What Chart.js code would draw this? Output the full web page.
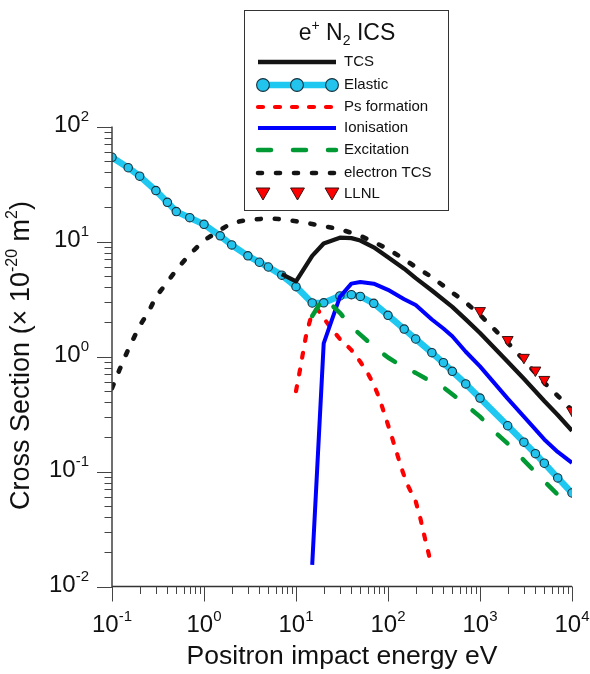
<!DOCTYPE html>
<html><head><meta charset="utf-8">
<script src="https://cdn.jsdelivr.net/npm/chart.js@4.4.1/dist/chart.umd.min.js"></script>
<style>html,body{margin:0;padding:0;background:#fff}canvas{display:block}</style>
</head><body>
<canvas id="c" width="590" height="674"></canvas>
<script>
// ---- data (energy in eV, cross sections in 1e-20 m^2) ----
const energyElastic = [0.1,0.15,0.2,0.3,0.4,0.5,0.7,1,1.5,2,3,4,5,7,10,15,20,30,40,50,70,100,150,200,300,400,500,700,1000,2000,3000,4000,5000,7000,10000];
const elastic = [54,43.8,37,27.7,21.9,18.2,16.1,14.1,11.2,9.33,7.5,6.6,6.0,5.1,4.05,2.92,2.93,3.36,3.45,3.33,2.9,2.28,1.73,1.42,1.08,0.883,0.743,0.577,0.435,0.25,0.18,0.143,0.118,0.088,0.065];

const energyTCS = [7,10,15,20,30,40,50,70,100,150,200,300,500,700,1000,2000,3000,5000,7000,10000];
const tcs = [5.2,4.5,7.5,9.6,10.8,10.7,10.2,8.9,7.3,5.8,4.8,3.75,2.7,2.1,1.6,0.9,0.64,0.41,0.31,0.226];

const energyPs = [10,11,13,15,17,20,25,30,40,50,60,70,80,90,100,120,140,160,200,225,250,280];
const psFormation = [0.5,0.75,1.6,2.4,2.6,2.15,1.7,1.42,1.14,0.9,0.72,0.57,0.44,0.33,0.255,0.16,0.107,0.079,0.055,0.039,0.027,0.0185];

const energyIon = [15,20,30,40,50,70,100,150,200,300,400,500,700,1000,2000,3000,5000,7000,10000];
const ionisation = [0.0154,1.3,3.3,4.3,4.45,4.3,3.8,3.15,2.8,2.1,1.75,1.5,1.1,0.82,0.43,0.3,0.19,0.148,0.119];

const energyExc = [15,20,25,30,40,50,70,100,150,200,300,400,500,700,1000,1500,2000,3000,5000,7000,10000];
const excitation = [2.25,3.25,2.75,2.4,1.82,1.55,1.22,0.98,0.8,0.72,0.6,0.54,0.47,0.38,0.3,0.215,0.175,0.125,0.082,0.063,0.05];

const energyETCS = [0.1,0.12,0.15,0.2,0.25,0.3,0.4,0.5,0.7,1,1.5,2,3,5,7,10,15,20,30,40,50,70,100,150,200,300,500,700,1000,1500,2000,3000,5000,7000,10000];
const electronTCS = [0.53,0.76,1.15,1.85,2.45,3.3,4.45,5.65,7.75,10.2,12.6,14.5,15.4,15.9,15.6,15.0,14.2,13.6,12.8,11.9,11.2,9.9,8.6,7.0,6.0,4.9,3.6,2.95,2.3,1.66,1.32,0.93,0.59,0.455,0.34];

const energyLLNL = [1000,2000,3000,4000,5000,10000];
const llnl = [2.5,1.4,0.98,0.76,0.63,0.34];

const xTickExp = [-1,0,1,2,3,4];
const yTickExp = [-2,-1,0,1,2];
const xTitle = 'Positron impact energy eV';
const legendOrder = ['TCS','Elastic','Ps formation','Ionisation','Excitation','electron TCS','LLNL'];

// ---- helpers ----
const FF = '"Liberation Sans", Arial, sans-serif';
const pts = (xs, ys) => xs.map((x, i) => ({x: x, y: ys[i]}));

function richWidth(ctx, parts){
  let w = 0;
  parts.forEach(p => { ctx.font = p.size + 'px ' + FF; w += ctx.measureText(p.t).width; });
  return w;
}
function drawRich(ctx, parts, x, y, align){
  const w = richWidth(ctx, parts);
  let cx = align === 'center' ? x - w/2 : (align === 'right' ? x - w : x);
  ctx.textAlign = 'left'; ctx.textBaseline = 'alphabetic';
  parts.forEach(p => {
    ctx.font = p.size + 'px ' + FF;
    ctx.fillText(p.t, cx, y + (p.dy || 0));
    cx += ctx.measureText(p.t).width;
  });
}
const pow10Parts = e => [{t:'10', size:24}, {t:String(e), size:15, dy:-11}];

const COLORS = {
  tcs:'#141414', elastic:'#1ec8f0', ps:'#ff0000', ion:'#0000ff', exc:'#009933', etcs:'#141414', llnl:'#ff0000'
};

const datasets = [
  {label:'LLNL', data:pts(energyLLNL, llnl), showLine:false, pointStyle:'triangle', rotation:180,
   pointRadius:6.3, pointBackgroundColor:COLORS.llnl, pointBorderColor:'#3a1010', pointBorderWidth:1, order:0},
  {label:'Excitation', data:pts(energyExc, excitation), showLine:true, borderColor:COLORS.exc, borderWidth:4.5,
   borderDash:[13,22], borderCapStyle:'round', pointRadius:0, order:1},
  {label:'Ionisation', data:pts(energyIon, ionisation), showLine:true, borderColor:COLORS.ion, borderWidth:4,
   pointRadius:0, order:2},
  {label:'Ps formation', data:pts(energyPs, psFormation), showLine:true, borderColor:COLORS.ps, borderWidth:4.2,
   borderDash:[5,12], borderCapStyle:'round', pointRadius:0, order:3},
  {label:'TCS', data:pts(energyTCS, tcs), showLine:true, borderColor:COLORS.tcs, borderWidth:4.3,
   pointRadius:0, order:4},
  {label:'Elastic', data:pts(energyElastic, elastic), showLine:true, borderColor:COLORS.elastic, borderWidth:6.5,
   pointRadius:4.2, pointBackgroundColor:'#22c4ee', pointBorderColor:'#18303c', pointBorderWidth:1.1, order:5},
  {label:'electron TCS', data:pts(energyETCS, electronTCS), showLine:true, borderColor:COLORS.etcs, borderWidth:4.6,
   borderDash:[4,14], borderCapStyle:'round', pointRadius:0, order:6}
];
datasets.forEach(d => { d.borderJoinStyle = 'round'; d.tension = 0; d.pointHoverRadius = d.pointRadius; });

const axesPlugin = {
  id:'customAxes',
  afterDraw(chart){
    const ctx = chart.ctx, xs = chart.scales.x, ys = chart.scales.y, a = chart.chartArea;
    ctx.save();
    // axis lines
    ctx.strokeStyle = '#333'; ctx.lineWidth = 1.4;
    ctx.beginPath(); ctx.moveTo(a.left, a.top); ctx.lineTo(a.left, a.bottom); ctx.lineTo(a.right, a.bottom); ctx.stroke();
    // ticks
    ctx.lineWidth = 1; ctx.strokeStyle = '#444';
    for (let e = -1; e <= 4; e++){
      for (let m = 1; m <= 9; m++){
        const v = m * Math.pow(10, e);
        if (v > 10000.0001) break;
        const px = Math.round(xs.getPixelForValue(v)) + 0.5;
        const len = m === 1 ? 15 : 7.5;
        ctx.beginPath(); ctx.moveTo(px, a.bottom); ctx.lineTo(px, a.bottom + len); ctx.stroke();
      }
    }
    for (let e = -2; e <= 2; e++){
      for (let m = 1; m <= 9; m++){
        const v = m * Math.pow(10, e);
        if (v > 100.0001) break;
        const py = Math.round(ys.getPixelForValue(v)) + 0.5;
        const len = m === 1 ? 15 : 7.5;
        ctx.beginPath(); ctx.moveTo(a.left, py); ctx.lineTo(a.left - len, py); ctx.stroke();
      }
    }
    // tick labels
    ctx.fillStyle = '#111';
    xTickExp.forEach(e => drawRich(ctx, pow10Parts(e), xs.getPixelForValue(Math.pow(10, e)), 632, 'center'));
    yTickExp.forEach(e => drawRich(ctx, pow10Parts(e), 89, ys.getPixelForValue(Math.pow(10, e)) + 5, 'right'));
    // axis titles
    drawRich(ctx, [{t:xTitle, size:26.5}], (a.left + a.right)/2, 664, 'center');
    ctx.save();
    ctx.translate(29, (a.top + a.bottom)/2 - 1);
    ctx.rotate(-Math.PI/2);
    drawRich(ctx, [{t:'Cross Section (\u00D7 10', size:27}, {t:'-20', size:16, dy:-12}, {t:' m', size:27}, {t:'2', size:16, dy:-12}, {t:')', size:27}], 0, 0, 'center');
    ctx.restore();

    // legend box
    const bx = 244.5, by = 10.5, bw = 204, bh = 200;
    ctx.fillStyle = '#fff'; ctx.fillRect(bx, by, bw, bh);
    ctx.strokeStyle = '#333'; ctx.lineWidth = 1; ctx.strokeRect(bx, by, bw, bh);
    ctx.fillStyle = '#111';
    drawRich(ctx, [{t:'e', size:23}, {t:'+', size:14, dy:-10}, {t:' N', size:23}, {t:'2', size:14, dy:5}, {t:' ICS', size:23}], 347, 40, 'center');
    const rowY = [62, 85, 107, 128, 150, 173, 194];
    const x1 = 258, x2 = 336, tx = 344;
    legendOrder.forEach((lab, i) => {
      const ds = datasets.find(d => d.label === lab);
      const y = rowY[i];
      ctx.save();
      if (ds.showLine){
        ctx.strokeStyle = ds.borderColor; ctx.lineWidth = ds.borderWidth;
        ctx.lineCap = ds.borderCapStyle === 'round' ? 'round' : 'butt';
        ctx.setLineDash(ds.borderDash || []);
        ctx.beginPath(); ctx.moveTo(x1, y); ctx.lineTo(x2, y); ctx.stroke();
        ctx.setLineDash([]);
      }
      if (lab === 'Elastic'){
        [263, 297, 332].forEach(cx => {
          ctx.beginPath(); ctx.arc(cx, y, 6.4, 0, Math.PI*2);
          ctx.fillStyle = ds.pointBackgroundColor; ctx.fill();
          ctx.lineWidth = 1.1; ctx.strokeStyle = ds.pointBorderColor; ctx.stroke();
        });
      }
      if (lab === 'LLNL'){
        [263, 297.5, 332].forEach(cx => {
          const r = 8, cy = y - 2;
          ctx.beginPath();
          ctx.moveTo(cx, cy + r);
          ctx.lineTo(cx - r*0.866, cy - r/2);
          ctx.lineTo(cx + r*0.866, cy - r/2);
          ctx.closePath();
          ctx.fillStyle = ds.pointBackgroundColor; ctx.fill();
          ctx.lineWidth = 1; ctx.strokeStyle = ds.pointBorderColor; ctx.stroke();
        });
      }
      ctx.restore();
      ctx.fillStyle = '#111';
      ctx.font = '15px ' + FF; ctx.textAlign = 'left'; ctx.textBaseline = 'middle';
      ctx.fillText(lab, tx, y);
    });
    ctx.restore();
  }
};

new Chart(document.getElementById('c'), {
  type:'scatter',
  data:{datasets: datasets},
  options:{
    responsive:false, animation:false, devicePixelRatio:1,
    layout:{padding:{top:126.5, right:18, left:0, bottom:0}},
    plugins:{legend:{display:false}, tooltip:{enabled:false}},
    events:[],
    scales:{
      x:{type:'logarithmic', min:0.1, max:10000, position:'bottom',
         grid:{display:false}, border:{display:false}, ticks:{display:false},
         afterFit(s){ s.height = 87.5; }},
      y:{type:'logarithmic', min:0.01, max:100, position:'left',
         grid:{display:false}, border:{display:false}, ticks:{display:false},
         afterFit(s){ s.width = 112; }}
    }
  },
  plugins:[axesPlugin]
});
</script>
</body></html>
